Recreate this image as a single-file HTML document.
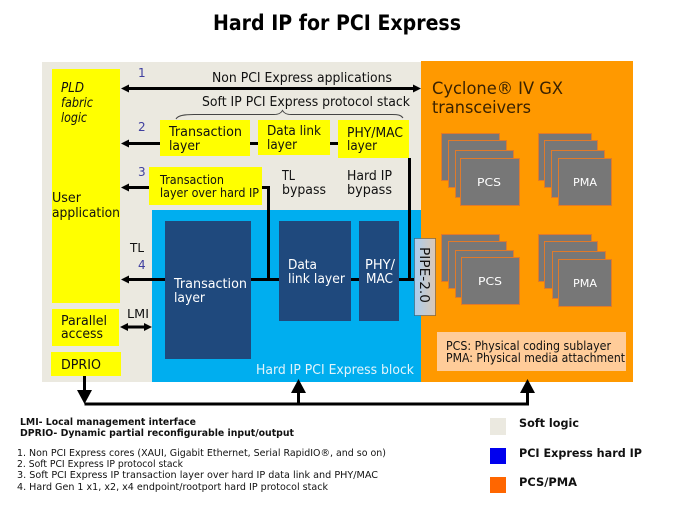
<!DOCTYPE html>
<html><head><meta charset="utf-8"><title>Hard IP for PCI Express</title>
<style>
html,body{margin:0;padding:0;background:#fff;width:675px;height:506px;overflow:hidden}
svg{display:block}
text{font-family:"DejaVu Sans","Liberation Sans",sans-serif;font-size:12px;fill:#111}
.w{fill:#fff}
.n{fill:#3f3f9f;font-size:12px}
.b{font-weight:bold}
.s{fill:#777;stroke:#e07a2a;stroke-width:1}
.l{stroke:#000;stroke-width:3;fill:none}
</style></head><body>
<svg width="675" height="506" viewBox="0 0 675 506" xmlns="http://www.w3.org/2000/svg">
<rect width="675" height="506" fill="#fff"/>
<text x="213" y="30" class="b" style="font-size:21px;fill:#000" textLength="248" lengthAdjust="spacingAndGlyphs">Hard IP for PCI Express</text>

<rect x="42" y="62" width="379" height="320" fill="#ebe9e0"/>
<rect x="421" y="61" width="212" height="321" fill="#ff9900"/>
<rect x="152" y="210" width="269" height="172" fill="#00aeef"/>

<!-- yellow -->
<g fill="#ffff00">
<rect x="52" y="69" width="68" height="234"/>
<rect x="52" y="309" width="67" height="37"/>
<rect x="51" y="352" width="70" height="24"/>
<rect x="160" y="120" width="90" height="36"/>
<rect x="258" y="120" width="72" height="35"/>
<rect x="338" y="120" width="71" height="38"/>
<rect x="149" y="167" width="113" height="38"/>
</g>

<!-- dark blue -->
<g fill="#1f497d">
<rect x="165" y="221" width="86" height="138"/>
<rect x="279" y="221" width="72" height="100"/>
<rect x="359" y="221" width="40" height="100"/>
</g>

<!-- connectors -->
<path class="l" d="M127 88.500H414"/>
<path d="M121 88.500l8-4v8zM421 88.500l-8-4v8z"/>
<path class="l" d="M127 143.500H160M250 143.500H258M330 143.500H338"/>
<path d="M121 143.500l8-4v8z"/>
<path class="l" d="M127 187.500H149M262 187.500H268.500V279.500"/>
<path d="M121 187.500l8-4v8z"/>
<path class="l" d="M127 279.500H165M251 279.500H279M351 279.500H359M399 279.500H414M409.500 158V279.500"/>
<path d="M121 279.500l8-4v8z"/>
<path class="l" d="M126 327H146"/>
<path d="M120 327l8-4v8zM152 327l-8-4v8z"/>
<path class="l" d="M84.500 376V392M84.500 404H527.500V392M298.500 404V392"/>
<path d="M84.500 404l-7.500-14h15zM298.500 379l-7.500 14h15zM527.500 379l-7.500 14h15z"/>

<!-- brace -->
<path d="M176 119C178 115 186 114.500 194 114.500H274C279 114.500 281 113 282.500 110.500C284 113 286 114.500 291 114.500H392C398 114.500 401 115 403 118" fill="none" stroke="#444" stroke-width="1"/>

<!-- PIPE -->
<defs><linearGradient id="g" x1="0" x2="1" y1="0" y2="0"><stop offset="0" stop-color="#a9cdf0"/><stop offset="1" stop-color="#dcc8b4"/></linearGradient></defs>
<rect x="414.500" y="238.500" width="21" height="77" fill="url(#g)" stroke="#444" stroke-width="1" stroke-dasharray="1 1"/>
<text transform="translate(420 247) rotate(90)" style="font-size:13px" textLength="56" lengthAdjust="spacingAndGlyphs">PIPE-2.0</text>

<!-- stacks -->
<rect class="s" x="441.500" y="133.500" width="58" height="47"/><rect class="s" x="448.500" y="140.500" width="58" height="47"/><rect class="s" x="455.500" y="150.500" width="58" height="47"/><rect class="s" x="460.500" y="158.500" width="59" height="47"/>
<rect class="s" x="538.500" y="133.500" width="53" height="47"/><rect class="s" x="544.500" y="140.500" width="53" height="47"/><rect class="s" x="551.500" y="150.500" width="53" height="47"/><rect class="s" x="558.500" y="158.500" width="53" height="47"/>
<rect class="s" x="441.500" y="234.500" width="58" height="47"/><rect class="s" x="448.500" y="241.500" width="58" height="47"/><rect class="s" x="455.500" y="250.500" width="58" height="47"/><rect class="s" x="461.500" y="257.500" width="58" height="47"/>
<rect class="s" x="538.500" y="234.500" width="53" height="47"/><rect class="s" x="544.500" y="241.500" width="53" height="47"/><rect class="s" x="552.500" y="251.500" width="53" height="47"/><rect class="s" x="558.500" y="259.500" width="53" height="47"/>
<text class="w" x="477" y="186" style="font-size:11px" textLength="24" lengthAdjust="spacingAndGlyphs">PCS</text>
<text class="w" x="573" y="186" style="font-size:11px" textLength="24" lengthAdjust="spacingAndGlyphs">PMA</text>
<text class="w" x="478" y="285" style="font-size:11px" textLength="24" lengthAdjust="spacingAndGlyphs">PCS</text>
<text class="w" x="573" y="287" style="font-size:11px" textLength="24" lengthAdjust="spacingAndGlyphs">PMA</text>

<rect x="437" y="332" width="189" height="39" fill="#ffcc99"/>
<text x="446" y="350" style="font-size:12px" textLength="165" lengthAdjust="spacingAndGlyphs">PCS: Physical coding sublayer</text>
<text x="446" y="362" style="font-size:12px" textLength="179" lengthAdjust="spacingAndGlyphs">PMA: Physical media attachment</text>

<!-- labels -->
<text class="n" x="138" y="77">1</text><text class="n" x="138" y="131">2</text><text class="n" x="138" y="176">3</text><text class="n" x="138" y="269">4</text>
<text x="212" y="82" style="font-size:13px" textLength="180" lengthAdjust="spacingAndGlyphs">Non PCI Express applications</text>
<text x="202" y="106" style="font-size:13px" textLength="208" lengthAdjust="spacingAndGlyphs">Soft IP PCI Express protocol stack</text>
<g font-style="italic">
<text x="61" y="92" style="font-size:13px" textLength="23" lengthAdjust="spacingAndGlyphs">PLD</text>
<text x="61" y="107" style="font-size:13px" textLength="32" lengthAdjust="spacingAndGlyphs">fabric</text>
<text x="61" y="122" style="font-size:13px" textLength="26" lengthAdjust="spacingAndGlyphs">logic</text>
</g>
<text x="52" y="202" style="font-size:13.500px" textLength="29" lengthAdjust="spacingAndGlyphs">User</text>
<text x="52" y="217" style="font-size:13.500px" textLength="68" lengthAdjust="spacingAndGlyphs">application</text>
<text x="169" y="136" style="font-size:13.500px" textLength="73" lengthAdjust="spacingAndGlyphs">Transaction</text>
<text x="169" y="150" style="font-size:13.500px" textLength="31" lengthAdjust="spacingAndGlyphs">layer</text>
<text x="267" y="135" style="font-size:13.500px" textLength="54" lengthAdjust="spacingAndGlyphs">Data link</text>
<text x="267" y="149" style="font-size:13.500px" textLength="30" lengthAdjust="spacingAndGlyphs">layer</text>
<text x="347" y="137" style="font-size:13.500px" textLength="56" lengthAdjust="spacingAndGlyphs">PHY/MAC</text>
<text x="347" y="150" style="font-size:13.500px" textLength="30" lengthAdjust="spacingAndGlyphs">layer</text>
<text x="160" y="184" style="font-size:12px" textLength="64" lengthAdjust="spacingAndGlyphs">Transaction</text>
<text x="160" y="197" style="font-size:12px" textLength="99" lengthAdjust="spacingAndGlyphs">layer over hard IP</text>
<text x="282" y="180" style="font-size:13px" textLength="13" lengthAdjust="spacingAndGlyphs">TL</text>
<text x="282" y="194" style="font-size:13px" textLength="44" lengthAdjust="spacingAndGlyphs">bypass</text>
<text x="347" y="180" style="font-size:13px" textLength="45" lengthAdjust="spacingAndGlyphs">Hard IP</text>
<text x="347" y="194" style="font-size:13px" textLength="45" lengthAdjust="spacingAndGlyphs">bypass</text>
<text x="130" y="252" textLength="14" lengthAdjust="spacingAndGlyphs">TL</text>
<text x="127" y="318" textLength="22" lengthAdjust="spacingAndGlyphs">LMI</text>
<text x="61" y="325" style="font-size:13px" textLength="46" lengthAdjust="spacingAndGlyphs">Parallel</text>
<text x="61" y="338" style="font-size:13px" textLength="42" lengthAdjust="spacingAndGlyphs">access</text>
<text x="61" y="369" style="font-size:13px" textLength="40" lengthAdjust="spacingAndGlyphs">DPRIO</text>
<text class="w" x="174" y="288" style="font-size:13.500px" textLength="73" lengthAdjust="spacingAndGlyphs">Transaction</text>
<text class="w" x="174" y="302" style="font-size:13.500px" textLength="31" lengthAdjust="spacingAndGlyphs">layer</text>
<text class="w" x="288" y="269" style="font-size:13.500px" textLength="29" lengthAdjust="spacingAndGlyphs">Data</text>
<text class="w" x="288" y="283" style="font-size:13.500px" textLength="57" lengthAdjust="spacingAndGlyphs">link layer</text>
<text class="w" x="365" y="269" style="font-size:13.500px" textLength="30" lengthAdjust="spacingAndGlyphs">PHY/</text>
<text class="w" x="366" y="283" style="font-size:13.500px" textLength="27" lengthAdjust="spacingAndGlyphs">MAC</text>
<text x="256" y="374" style="font-size:13px;fill:#e2f4fb" textLength="158" lengthAdjust="spacingAndGlyphs">Hard IP PCI Express block</text>
<text x="432" y="94" style="font-size:17px;fill:#3a2200" textLength="131" lengthAdjust="spacingAndGlyphs">Cyclone® IV GX</text>
<text x="432" y="113" style="font-size:17px;fill:#3a2200" textLength="99" lengthAdjust="spacingAndGlyphs">transceivers</text>

<!-- footnotes -->
<text x="20" y="425" class="b" style="font-size:10px" textLength="176" lengthAdjust="spacingAndGlyphs">LMI- Local management  interface</text>
<text x="20" y="436" class="b" style="font-size:10px" textLength="274" lengthAdjust="spacingAndGlyphs">DPRIO- Dynamic partial reconfigurable  input/output</text>
<text x="17" y="456" style="font-size:10px" textLength="369" lengthAdjust="spacingAndGlyphs">1. Non PCI Express cores (XAUI, Gigabit Ethernet, Serial RapidIO®, and so on)</text>
<text x="17" y="467" style="font-size:10px" textLength="166" lengthAdjust="spacingAndGlyphs">2. Soft PCI Express IP protocol stack</text>
<text x="17" y="478" style="font-size:10px" textLength="361" lengthAdjust="spacingAndGlyphs">3. Soft PCI Express IP transaction layer over hard IP data link and PHY/MAC</text>
<text x="17" y="490" style="font-size:10px" textLength="311" lengthAdjust="spacingAndGlyphs">4. Hard Gen 1 x1, x2, x4 endpoint/rootport hard IP protocol stack</text>

<!-- legend -->
<rect x="490" y="418" width="16" height="17" fill="#ebe9e0"/>
<rect x="490" y="448" width="16" height="16" fill="#0000ee"/>
<rect x="490" y="477" width="16" height="16" fill="#ff6600"/>
<text x="519" y="427" class="b" style="font-size:11.500px" textLength="60" lengthAdjust="spacingAndGlyphs">Soft logic</text>
<text x="519" y="457" class="b" style="font-size:11.500px" textLength="123" lengthAdjust="spacingAndGlyphs">PCI Express hard IP</text>
<text x="519" y="486" class="b" style="font-size:11.500px" textLength="58" lengthAdjust="spacingAndGlyphs">PCS/PMA</text>
</svg>
</body></html>
